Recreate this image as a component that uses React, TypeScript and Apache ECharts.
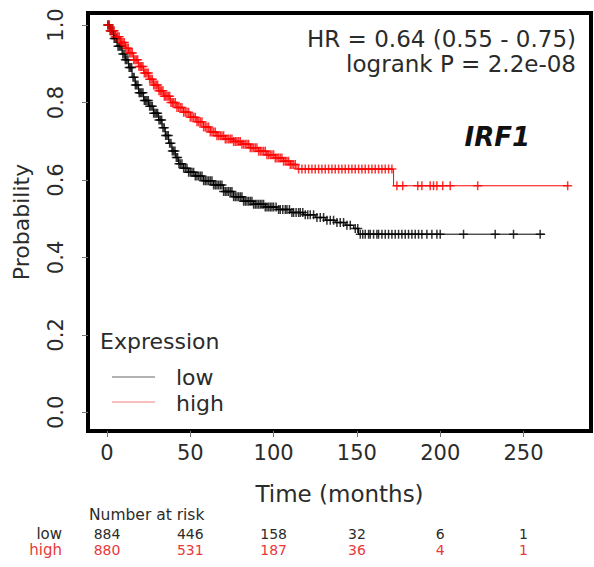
import React, { useEffect, useRef } from "react";
import * as echarts from "echarts";

const xTicks = [0, 50, 100, 150, 200, 250];
const yTicks = [0, 0.2, 0.4, 0.6, 0.8, 1.0];

// Kaplan-Meier step points, low expression
const lowTimes = [0, 2, 4, 6, 9, 11, 13, 15, 17, 19, 22, 25, 28, 31, 33, 35, 37, 39, 41, 43, 46, 49, 53, 58, 64, 70, 76, 82, 88, 95, 102, 110, 118, 125, 131, 137, 143, 148, 151, 263];
const lowSurv = [1.0, 0.985, 0.965, 0.945, 0.925, 0.91, 0.89, 0.865, 0.845, 0.825, 0.805, 0.79, 0.772, 0.755, 0.735, 0.715, 0.695, 0.675, 0.658, 0.642, 0.63, 0.62, 0.61, 0.598, 0.587, 0.57, 0.557, 0.545, 0.537, 0.53, 0.524, 0.516, 0.51, 0.503, 0.496, 0.49, 0.483, 0.475, 0.46, 0.46];
const lowCensor = [0.5, 1.2, 2, 2.8, 3.5, 4.3, 5, 5.8, 6.6, 7.3, 8, 8.8, 9.5, 10.3, 11, 11.8, 12.6, 13.3, 14, 14.8, 15.6, 16.3, 17, 17.8, 18.6, 19.3, 20, 20.8, 21.6, 22.4, 23.2, 24, 24.8, 25.6, 26.4, 27.2, 28, 28.8, 29.6, 30.4, 31.2, 32, 32.8, 33.6, 34.4, 35.2, 36, 36.8, 37.6, 38.4, 39.2, 40, 40.8, 41.6, 42.4, 43.2, 44, 45, 46, 47, 48, 49, 50, 51, 52, 53, 54, 55, 56, 57, 58, 59, 60, 61, 62, 63, 64, 65, 66, 67, 68, 69, 70, 71, 72, 73, 74, 75, 76, 77, 78, 79, 80, 81, 82, 83, 84, 85, 86, 87, 88, 89, 90, 91, 92, 93, 94, 95, 96, 97, 98, 99, 100, 101.5, 103, 104, 105.5, 107, 108, 109.5, 111, 112, 113.5, 115, 116, 117.5, 119, 120.5, 122, 124, 126, 128, 130, 132, 134, 136, 138, 140, 142, 144, 146, 149, 150.5, 152, 153.5, 155, 157, 158, 160, 162, 163, 165, 167, 169, 171, 173, 175, 177, 179, 181, 183, 185, 187, 189, 192, 195, 198, 200, 214, 233, 244, 260];

// Kaplan-Meier step points, high expression
const highTimes = [0, 2, 5, 8, 11, 13, 16, 19, 22, 25, 28, 31, 34, 38, 42, 46, 50, 54, 58, 62, 66, 71, 76, 81, 86, 91, 96, 101, 106, 110, 114, 172, 277];
const highSurv = [1.0, 0.985, 0.97, 0.955, 0.94, 0.928, 0.91, 0.893, 0.876, 0.86, 0.845, 0.83, 0.816, 0.8, 0.787, 0.775, 0.762, 0.75, 0.737, 0.724, 0.714, 0.706, 0.699, 0.692, 0.683, 0.674, 0.665, 0.657, 0.648, 0.64, 0.628, 0.585, 0.585];
const highCensor = [0.5, 1.3, 2, 2.8, 3.6, 4.3, 5, 5.8, 6.5, 7.3, 8.1, 8.8, 9.6, 10.4, 11.2, 12, 12.8, 13.6, 14.4, 15.2, 16, 16.8, 17.6, 18.4, 19.2, 20, 20.8, 21.6, 22.4, 23.2, 24, 24.8, 25.6, 26.4, 27.2, 28, 28.8, 29.6, 30.4, 31.2, 32, 32.8, 33.6, 34.4, 35.2, 36, 36.8, 37.6, 38.4, 39.2, 40, 41, 42, 43, 44, 45, 46, 47, 48, 49, 50, 51, 52, 53, 54, 55, 56, 57, 58, 59, 60, 61, 62, 63, 64, 65, 66, 67, 68, 69, 70, 71, 72, 73, 74, 75, 76, 77, 78, 79, 80, 81, 82, 83, 84, 85, 86, 87, 88, 89, 90, 91, 92, 93, 94, 95, 96, 97, 98, 99, 100, 101, 102, 103, 104, 105, 106, 107, 108, 109, 110, 111, 112, 113, 115, 117, 119, 121, 123, 125, 127, 129, 131, 133, 135, 137, 139, 141, 143, 145, 147, 149, 151, 153, 155, 157, 159, 161, 163, 165, 167, 169, 171, 174, 177.5, 186.5, 189, 194, 196, 198, 201.5, 206, 222.5, 276.5];

const riskLow = [884, 446, 158, 32, 6, 1];
const riskHigh = [880, 531, 187, 36, 4, 1];

const FONT = "DejaVu Sans";
const TXT = "#2b2b2b";
const RED = "#ff0000";
const RISK_RED = "#e8383c";

function survAt(times: number[], surv: number[], t: number) {
  let v = surv[0];
  for (let i = 0; i < times.length; i++) {
    if (times[i] <= t) v = surv[i];
  }
  return v;
}

const plus = "path://M0,5L10,5M5,0L5,10";

export default function App() {
  const ref = useRef<HTMLDivElement>(null);
  useEffect(() => {
    const chart = echarts.init(ref.current!, null, { renderer: "svg" });
    const lowLine = lowTimes.map((t, i) => [t, lowSurv[i]]);
    const highLine = highTimes.map((t, i) => [t, highSurv[i]]);
    const lowMarks = lowCensor.map((t) => [t, survAt(lowTimes, lowSurv, t)]);
    const highMarks = highCensor.map((t) => [t, survAt(highTimes, highSurv, t)]);

    chart.setOption({
      animation: false,
      backgroundColor: "#ffffff",
      grid: {
        left: 88,
        top: 13,
        right: 3,
        bottom: 136,
        show: true,
        borderColor: "#000",
        borderWidth: 4,
        backgroundColor: "transparent",
      },
      xAxis: {
        type: "value",
        min: -11.4,
        max: 290.5,
        axisLine: { show: false, onZero: false },
        splitLine: { show: false },
        axisTick: { show: true, length: 6, customValues: xTicks, lineStyle: { color: "#777", width: 1 } },
        axisLabel: { customValues: xTicks, fontSize: 21, color: TXT, margin: 11, fontFamily: FONT },
        name: "Time (months)",
        nameLocation: "middle",
        nameGap: 51,
        nameTextStyle: { fontSize: 23, color: TXT, fontFamily: FONT },
      },
      yAxis: {
        type: "value",
        min: -0.048,
        max: 1.031,
        axisLine: { show: false, onZero: false },
        splitLine: { show: false },
        axisTick: { show: true, length: 6, customValues: yTicks, lineStyle: { color: "#777", width: 1 } },
        axisLabel: {
          customValues: yTicks,
          rotate: 90,
          fontSize: 21,
          color: TXT,
          margin: 22,
          fontFamily: FONT,
          formatter: (v: number) => v.toFixed(1),
        },
        name: "Probability",
        nameLocation: "middle",
        nameGap: 56,
        nameTextStyle: { fontSize: 22, color: TXT, fontFamily: FONT },
      },
      series: [
        {
          type: "line",
          data: lowLine,
          step: "end",
          symbol: "none",
          lineStyle: { color: "#000", width: 1 },
        },
        {
          type: "line",
          data: highLine,
          step: "end",
          symbol: "none",
          lineStyle: { color: RED, width: 1 },
        },
        {
          type: "scatter",
          data: lowMarks,
          symbol: plus,
          symbolSize: 9,
          itemStyle: { color: "transparent", borderColor: "#000", borderWidth: 1.5 },
        },
        {
          type: "scatter",
          data: highMarks,
          symbol: plus,
          symbolSize: 9,
          itemStyle: { color: "transparent", borderColor: RED, borderWidth: 1.5 },
        },
      ],
    });

    const elements: any[] = [
      { type: "text", x: 576, y: 38.5, style: { text: "HR = 0.64 (0.55 - 0.75)", fontSize: 23, fontFamily: FONT, fill: TXT, align: "right", verticalAlign: "middle" } },
      { type: "text", x: 576, y: 63.5, style: { text: "logrank P = 2.2e-08", fontSize: 23, fontFamily: FONT, fill: TXT, align: "right", verticalAlign: "middle" } },
      { type: "text", x: 530, y: 136.5, style: { text: "IRF1", fontSize: 26, fontFamily: FONT, fontWeight: "bold", fontStyle: "italic", fill: "#111", align: "right", verticalAlign: "middle" } },
      { type: "text", x: 100, y: 341, style: { text: "Expression", fontSize: 22, fontFamily: FONT, fill: TXT, align: "left", verticalAlign: "middle" } },
      { type: "line", shape: { x1: 112, y1: 377, x2: 155, y2: 377 }, style: { stroke: "#666", lineWidth: 1 } },
      { type: "line", shape: { x1: 112, y1: 402, x2: 155, y2: 402 }, style: { stroke: "#f08080", lineWidth: 1 } },
      { type: "text", x: 176, y: 377, style: { text: "low", fontSize: 22, fontFamily: FONT, fill: TXT, align: "left", verticalAlign: "middle" } },
      { type: "text", x: 176, y: 403, style: { text: "high", fontSize: 22, fontFamily: FONT, fill: TXT, align: "left", verticalAlign: "middle" } },
      { type: "text", x: 89, y: 515, style: { text: "Number at risk", fontSize: 15.5, fontFamily: FONT, fill: TXT, align: "left", verticalAlign: "middle" } },
      { type: "text", x: 62, y: 533.5, style: { text: "low", fontSize: 15, fontFamily: FONT, fill: TXT, align: "right", verticalAlign: "middle" } },
      { type: "text", x: 62, y: 550, style: { text: "high", fontSize: 15, fontFamily: FONT, fill: RISK_RED, align: "right", verticalAlign: "middle" } },
    ];
    xTicks.forEach((t, i) => {
      const px = chart.convertToPixel({ xAxisIndex: 0 }, t) as number;
      elements.push({ type: "text", x: px, y: 533.5, style: { text: String(riskLow[i]), fontSize: 14, fontFamily: FONT, fill: TXT, align: "center", verticalAlign: "middle" } });
      elements.push({ type: "text", x: px, y: 550, style: { text: String(riskHigh[i]), fontSize: 14, fontFamily: FONT, fill: RISK_RED, align: "center", verticalAlign: "middle" } });
    });
    chart.setOption({ graphic: { elements } });

    return () => chart.dispose();
  }, []);
  return <div ref={ref} style={{ position: "fixed", left: 0, top: 0, width: 594, height: 567 }} />;
}
